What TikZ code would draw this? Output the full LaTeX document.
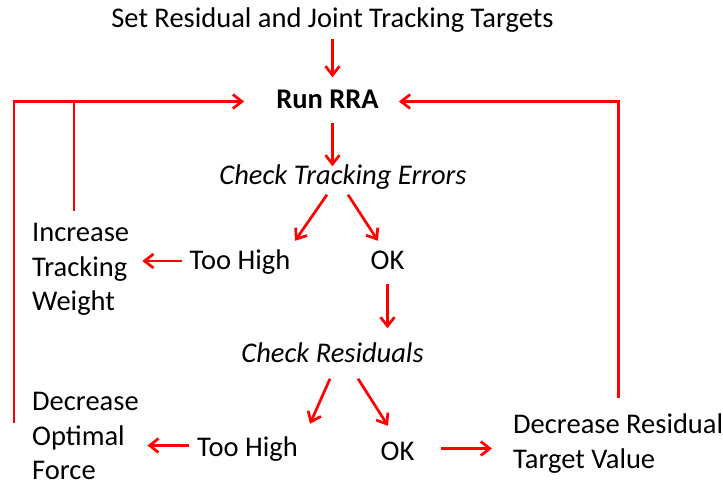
\documentclass[tikz,border=0pt]{standalone}
\usepackage{fontspec}
\setmainfont{Carlito}
\usetikzlibrary{arrows.meta}
\definecolor{flowred}{RGB}{255,0,0}
\newcommand{\flowfont}{\fontsize{28.5}{34.5}\selectfont}
\tikzset{
  lbl/.style={inner sep=0pt, font=\flowfont, text height=20pt, text depth=6pt},
  multi/.style={inner sep=0pt, font=\flowfont, align=left, anchor=west},
  link/.style={draw=flowred, line width=2.7pt},
  arr/.style={link, -{Straight Barb[length=9pt,width=14pt]}},
}
\begin{document}
\begin{tikzpicture}[x=1pt,y=-1pt]
\useasboundingbox (0,0) rectangle (723,483);

% steps of the procedure
\node[lbl] (set) at (332.5,20.5) {Set Residual and Joint Tracking Targets};
\node[lbl, font=\flowfont\bfseries] (run) at (327.5,101.5) {Run RRA};
\node[lbl, font=\flowfont\itshape] (cte) at (343,177.5) {Check Tracking Errors};
\node[lbl] (th1) at (240,262) {Too High};
\node[lbl] (ok1) at (387.5,262) {OK};
\node[multi] (itw) at (32,269.3) {Increase\\Tracking\\Weight};
\node[lbl, font=\flowfont\itshape] (cr) at (332.5,355.5) {Check Residuals};
\node[lbl] (th2) at (247.5,449) {Too High};
\node[lbl] (ok2) at (397.5,453) {OK};
\node[multi] (dof) at (32,436) {Decrease\\Optimal\\Force};
\node[multi] (drt) at (513,443.5) {Decrease Residual\\Target Value};

% loop corners
\coordinate (loopL) at ([shift={(-18,-13)}]dof.west);
\coordinate (wtop) at ([shift={(42,-12)}]itw.north west);
\coordinate (loopR) at ([shift={(0,-16)}]drt.north);

% main line
\draw[arr, shorten <=5pt, shorten >=11pt] (set.south) -- (set.south |- run.north);
\draw[arr, shorten <=8pt, shorten >=-2pt] (set.south |- run.south) -- (set.south |- cte.north);

% tracking check
\draw[arr] ([shift={(-16,4)}]cte.south) -- ([shift={(55,-8)}]th1.north);
\draw[arr] ([shift={(5,4)}]cte.south) -- ([shift={(-9.5,-8)}]ok1.north);
\draw[arr, shorten <=7.5pt, shorten >=13pt] ([yshift=1pt]th1.west) -- ([yshift=1pt]th1.west -| itw.east);
\draw[arr, shorten <=9pt, shorten >=14pt] (ok1.south) -- (ok1.south |- cr.north);

% residual check
\draw[arr] ([shift={(-2.5,10)}]cr.south) -- ([shift={(62.5,-12)}]th2.north);
\draw[arr] ([shift={(25.5,10)}]cr.south) -- ([shift={(-9.5,-14)}]ok2.north);
\draw[arr, shorten <=8pt, shorten >=8.5pt] ([yshift=3.5pt]th2.west) -- ([yshift=3.5pt]th2.west -| dof.east);
\draw[arr, shorten <=26pt, shorten >=21pt] ([yshift=4.5pt]ok2.east) -- ([yshift=4.5pt]ok2.east -| drt.west);

% feedback loops
\draw[arr] (loopL) |- ([xshift=-32pt]run.west);
\draw[link] (wtop) -- (wtop |- run.west);
\draw[arr] (loopR) |- ([xshift=20pt]run.east);
\end{tikzpicture}
\end{document}
